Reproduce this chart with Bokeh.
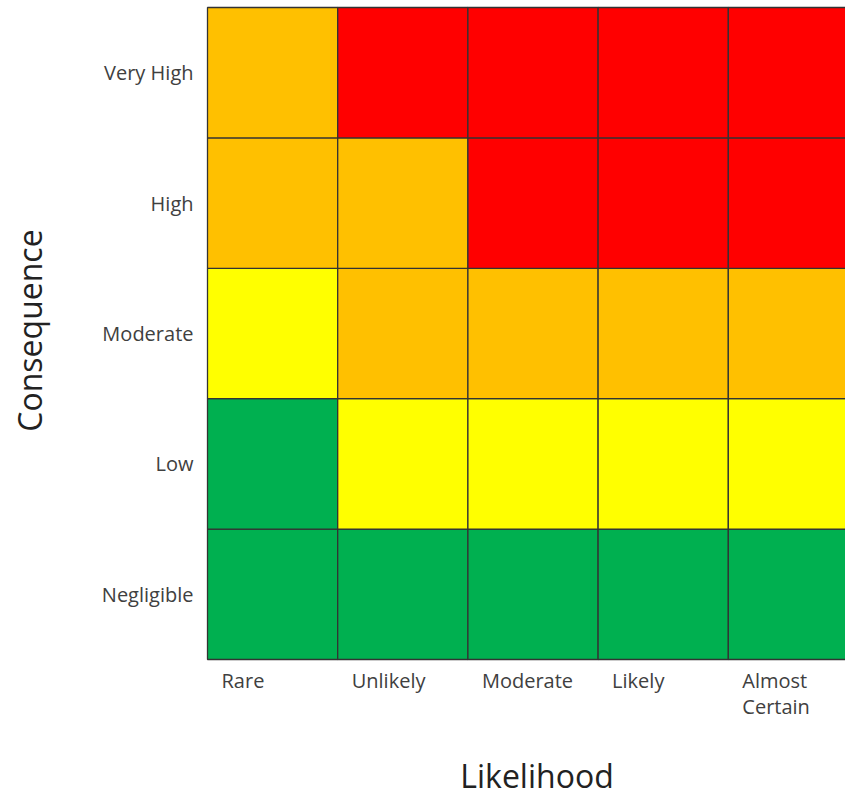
import math
from bokeh.plotting import figure
from bokeh.models import ColumnDataSource, Range1d
from bokeh.core.properties import value
from bokeh.embed import file_html
from bokeh.resources import INLINE

# ---- data ----
likelihood = ["Rare", "Unlikely", "Moderate", "Likely", "Almost\nCertain"]
consequence = ["Negligible", "Low", "Moderate", "High", "Very High"]  # bottom -> top
ratings = {
    "Negligible": ["Low", "Low", "Low", "Low", "Low"],
    "Low": ["Low", "Medium", "Medium", "Medium", "Medium"],
    "Moderate": ["Medium", "High", "High", "High", "High"],
    "High": ["High", "High", "Extreme", "Extreme", "Extreme"],
    "Very High": ["High", "Extreme", "Extreme", "Extreme", "Extreme"],
}
rating_colors = {"Low": "#00B050", "Medium": "#FFFF00", "High": "#FFC000", "Extreme": "#FF0000"}

# ---- build cell table ----
xs, ys, cols = [], [], []
for j, c in enumerate(consequence):
    for i, r in enumerate(ratings[c]):
        xs.append(i + 0.5)
        ys.append(j + 0.5)
        cols.append(rating_colors[r])
cells = ColumnDataSource(dict(x=xs, y=ys, color=cols))

# ---- layout (pixels) ----
W, H = 845, 794
GRID_LEFT, GRID_TOP, GRID_BOTTOM = 207, 7, 659
UX = (W - GRID_LEFT) / 4.9          # px per column (last column is cut by the edge)
UY = (GRID_BOTTOM - GRID_TOP) / 5.0  # px per row

FONT = value("Open Sans")
TICK_COLOR = "#404040"
TITLE_COLOR = "#222222"

p = figure(width=W, height=H,
           x_range=Range1d(-GRID_LEFT / UX, (W - GRID_LEFT) / UX),
           y_range=Range1d(-(H - GRID_BOTTOM) / UY, GRID_BOTTOM / UY),
           output_backend="svg", toolbar_location=None, min_border=0)
p.axis.visible = False
p.grid.visible = False
p.outline_line_color = None
p.background_fill_color = "white"
p.border_fill_color = "white"

p.rect(x="x", y="y", width=1, height=1, source=cells,
       fill_color="color", line_color="#333333", line_width=1.3)

# y tick labels (consequence), right aligned left of the grid
p.text(x=[0] * len(consequence), y=[j + 0.5 for j in range(len(consequence))],
       text=consequence, x_offset=-14, text_align="right", text_baseline="middle",
       text_font=FONT, text_font_size=value("20px"), text_color=TICK_COLOR)

# x tick labels (likelihood), left aligned within each column
p.text(x=list(range(len(likelihood))), y=[0] * len(likelihood), text=likelihood,
       x_offset=14, y_offset=7, text_align="left", text_baseline="top",
       text_font=FONT, text_font_size=value("20px"), text_color=TICK_COLOR,
       text_line_height=0.98)

# axis titles
p.text(x=[2.5], y=[0], text=["Likelihood"], x_offset=4, y_offset=116,
       text_align="center", text_baseline="alphabetic",
       text_font=FONT, text_font_size=value("32px"), text_color=TITLE_COLOR)
p.text(x=[0], y=[2.5], text=["Consequence"], x_offset=-178, y_offset=-3,
       angle=math.pi / 2, text_align="center", text_baseline="middle",
       text_font=FONT, text_font_size=value("32px"), text_color=TITLE_COLOR)

open("out.html", "w").write(file_html(p, INLINE))
